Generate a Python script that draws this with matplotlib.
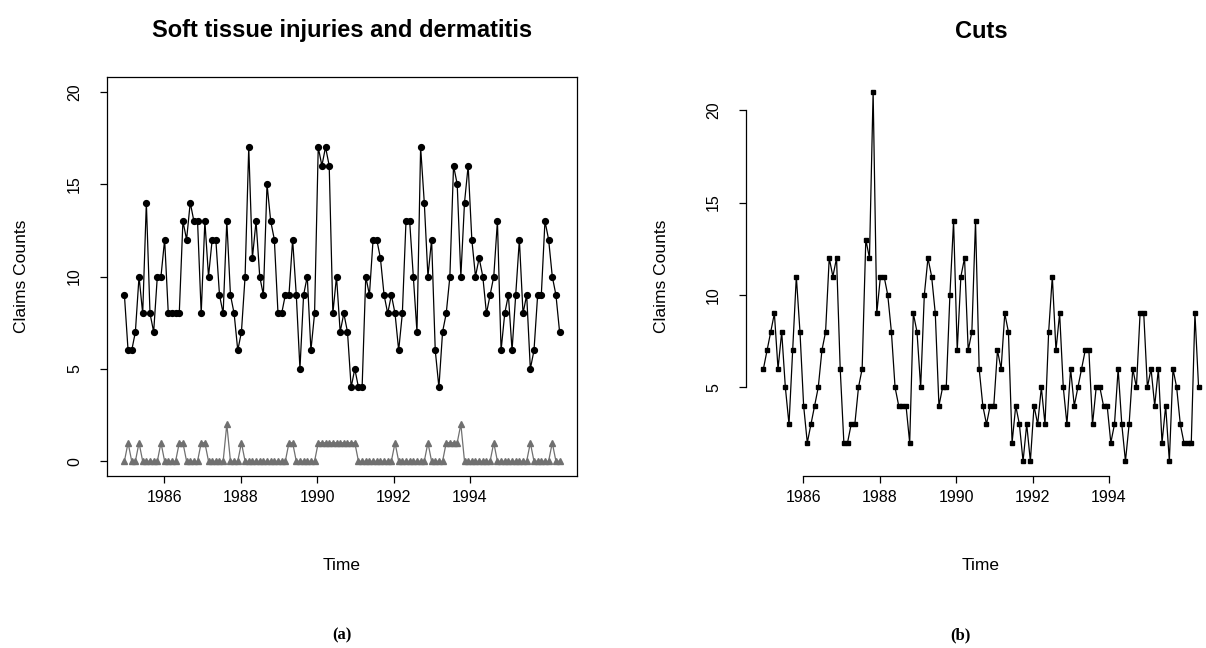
import numpy as np
import matplotlib
matplotlib.use("Agg")
import matplotlib.pyplot as plt

plt.rcParams['font.family'] = ['Liberation Sans', 'DejaVu Sans']

time_start, time_end = 1984.95, 1996.35
soft_tissue = [9, 6, 6, 7, 10, 8, 14, 8, 7, 10, 10, 12, 8, 8, 8, 8, 13, 12, 14, 13, 13, 8, 13, 10, 12,
               12, 9, 8, 13, 9, 8, 6, 7, 10, 17, 11, 13, 10, 9, 15, 13, 12, 8, 8, 9, 9, 12, 9, 5, 9, 10,
               6, 8, 17, 16, 17, 16, 8, 10, 7, 8, 7, 4, 5, 4, 4, 10, 9, 12, 12, 11, 9, 8, 9, 8, 6, 8,
               13, 13, 10, 7, 17, 14, 10, 12, 6, 4, 7, 8, 10, 16, 15, 10, 14, 16, 12, 10, 11, 10, 8, 9, 10, 13,
               6, 8, 9, 6, 9, 12, 8, 9, 5, 6, 9, 9, 13, 12, 10, 9, 7]
dermatitis = [0, 1, 0, 0, 1, 0, 0, 0, 0, 0, 1, 0, 0, 0, 0, 1, 1, 0, 0, 0,
              0, 1, 1, 0, 0, 0, 0, 0, 2, 0, 0, 0, 1, 0, 0, 0, 0, 0, 0, 0,
              0, 0, 0, 0, 0, 1, 1, 0, 0, 0, 0, 0, 0, 1, 1, 1, 1, 1, 1, 1,
              1, 1, 1, 1, 0, 0, 0, 0, 0, 0, 0, 0, 0, 0, 1, 0, 0, 0, 0, 0,
              0, 0, 0, 1, 0, 0, 0, 0, 1, 1, 1, 1, 2, 0, 0, 0, 0, 0, 0, 0,
              0, 1, 0, 0, 0, 0, 0, 0, 0, 0, 0, 1, 0, 0, 0, 0, 0, 1, 0, 0]
cuts = [6, 7, 8, 9, 6, 8, 5, 3, 7, 11, 8, 4, 2, 3, 4, 5, 7, 8, 12, 11, 12, 6, 2, 2, 3, 3, 5, 6,
        13, 12, 21, 9, 11, 11, 10, 8, 5, 4, 4, 4, 2, 9, 8, 5, 10, 12, 11, 9, 4, 5, 5, 10, 14, 7,
        11, 12, 7, 8, 14, 6, 4, 3, 4, 4, 7, 6, 9, 8, 2, 4, 3, 1, 3, 1, 4, 3, 5, 3, 8, 11,
        7, 9, 5, 3, 6, 4, 5, 6, 7, 7, 3, 5, 5, 4, 4, 2, 3, 6, 3, 1, 3, 6, 5, 9, 9, 5,
        6, 4, 6, 2, 4, 1, 6, 5, 3, 2, 2, 2, 9, 5]
x_ticks = [1986, 1988, 1990, 1992, 1994]
left_yticks = [0, 5, 10, 15, 20]
right_yticks = [5, 10, 15, 20]

t = np.linspace(time_start, time_end, len(soft_tissue))
tc = np.linspace(time_start, time_end, len(cuts))

W, H = 1206, 648
fig = plt.figure(figsize=(W / 100, H / 100), dpi=100)

ax_top, ax_bot = 77, 476
axw = 470
axA = fig.add_axes([107 / W, (H - ax_bot) / H, axw / W, (ax_bot - ax_top) / H])
axB = fig.add_axes([746 / W, (H - ax_bot) / H, axw / W, (ax_bot - ax_top) / H])

grey = '#707070'

def rng(lo, hi):
    p = 0.04 * (hi - lo)
    return lo - p, hi + p

# Panel a
axA.plot(t, soft_tissue, color='black', lw=0.9, marker='o', ms=4.2, mfc='black', mec='black')
axA.plot(t, dermatitis, color=grey, lw=0.9, marker='^', ms=4.0, mfc=grey, mec=grey)
axA.set_xlim(*rng(t.min(), t.max()))
axA.set_ylim(*rng(0, 20))
axA.set_xticks(x_ticks)
axA.set_yticks(left_yticks)
for s in axA.spines.values():
    s.set_linewidth(0.9)

# Panel b
axB.plot(tc, cuts, color='black', lw=0.9, marker='s', ms=3.2, mfc='black', mec='black')
axB.set_xlim(*rng(tc.min(), tc.max()))
axB.set_ylim(*rng(min(cuts), max(cuts)))
axB.set_xticks(x_ticks)
axB.set_yticks(right_yticks)
axB.spines['top'].set_visible(False)
axB.spines['right'].set_visible(False)
axB.spines['bottom'].set_bounds(x_ticks[0], x_ticks[-1])
axB.spines['left'].set_bounds(right_yticks[0], right_yticks[-1])
for s in axB.spines.values():
    s.set_linewidth(0.9)

titles = {axA: 'Soft tissue injuries and dermatitis', axB: 'Cuts'}
for ax in (axA, axB):
    ax.set_title(titles[ax], fontsize=17, fontweight='bold',
                 y=1 + (ax_top - 31) / (ax_bot - ax_top), va='center', pad=0)
    ax.tick_params(direction='out', length=5, width=0.9, labelsize=11.5, colors='black')
    ax.tick_params(axis='x', pad=5)
    ax.tick_params(axis='y', pad=13)
    for lab in ax.get_yticklabels():
        lab.set_rotation(90)
        lab.set_va('center')
    ax.set_xlabel('Time', fontsize=12.5, va='center')
    ax.xaxis.set_label_coords(0.5, -(565 - ax_bot) / (ax_bot - ax_top))
    ax.set_ylabel('Claims Counts', fontsize=12.5, va='center')
    ax.yaxis.set_label_coords(-(107 - 22) / axw, 0.5)

fig.text(342 / W, 1 - 635 / H, '(a)', ha='center', va='center', fontsize=12,
         family=['Liberation Serif', 'DejaVu Serif'], fontweight='bold')
fig.text(960 / W, 1 - 635 / H, '(b)', ha='center', va='center', fontsize=12,
         family=['Liberation Serif', 'DejaVu Serif'], fontweight='bold')

fig.savefig('out.png', dpi=100)
